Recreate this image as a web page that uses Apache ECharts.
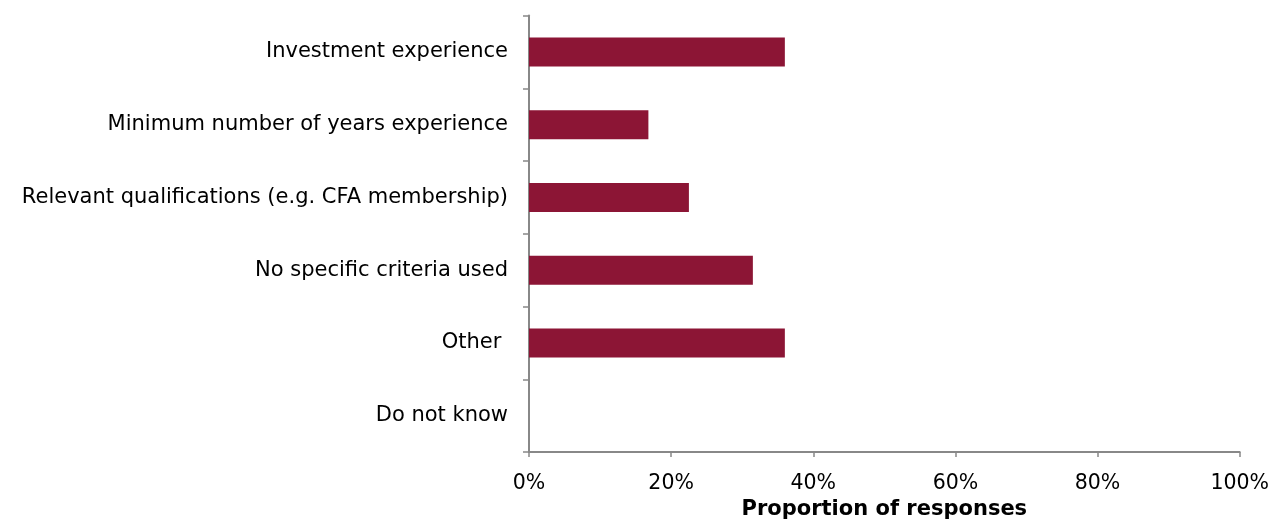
<!DOCTYPE html>
<html>
<head>
<meta charset="utf-8">
<script src="https://cdn.jsdelivr.net/npm/echarts@6/dist/echarts.min.js"></script>
<style>html,body{margin:0;padding:0;background:#fff}#c{width:1272px;height:525px}</style>
</head>
<body>
<div id="c"></div>
<script>
const categories = ["Investment experience", "Minimum number of years experience", "Relevant qualifications (e.g. CFA membership)", "No specific criteria used", "Other ", "Do not know"];
const values = [36, 16.8, 22.5, 31.5, 36, 0];
const xTicks = [0, 20, 40, 60, 80, 100];
const axisTitle = "Proportion of responses";

const chart = echarts.init(document.getElementById('c'), null, {renderer: 'canvas'});
const font = "DejaVu Sans, Verdana, sans-serif";
chart.setOption({
  animation: false,
  grid: {left: 529, right: 31, top: 15.5, bottom: 72},
  xAxis: {
    type: 'value', min: xTicks[0], max: xTicks[xTicks.length-1], interval: 20,
    name: axisTitle, nameLocation: 'middle', nameGap: 47,
    nameTextStyle: {fontFamily: font, fontSize: 21, fontWeight: 'bold', color: '#000'},
    axisLine: {show: true, lineStyle: {color: '#888', width: 2}},
    axisTick: {show: true, length: 5, lineStyle: {color: '#888', width: 1.5}},
    axisLabel: {formatter: '{value}%', fontFamily: font, fontSize: 20.5, color: '#000', margin: 21},
    splitLine: {show: false}
  },
  yAxis: {
    type: 'category', data: categories, inverse: true,
    axisLine: {show: true, lineStyle: {color: '#888', width: 2}},
    axisTick: {show: true, length: 6, lineStyle: {color: '#888', width: 1.5}},
    axisLabel: {fontFamily: font, fontSize: 21, color: '#000', margin: 21, padding: [2, 0, 0, 0]}
  },
  series: [{
    type: 'bar', data: values, barWidth: 29,
    itemStyle: {color: '#8C1535'}
  }]
});
</script>
</body>
</html>
